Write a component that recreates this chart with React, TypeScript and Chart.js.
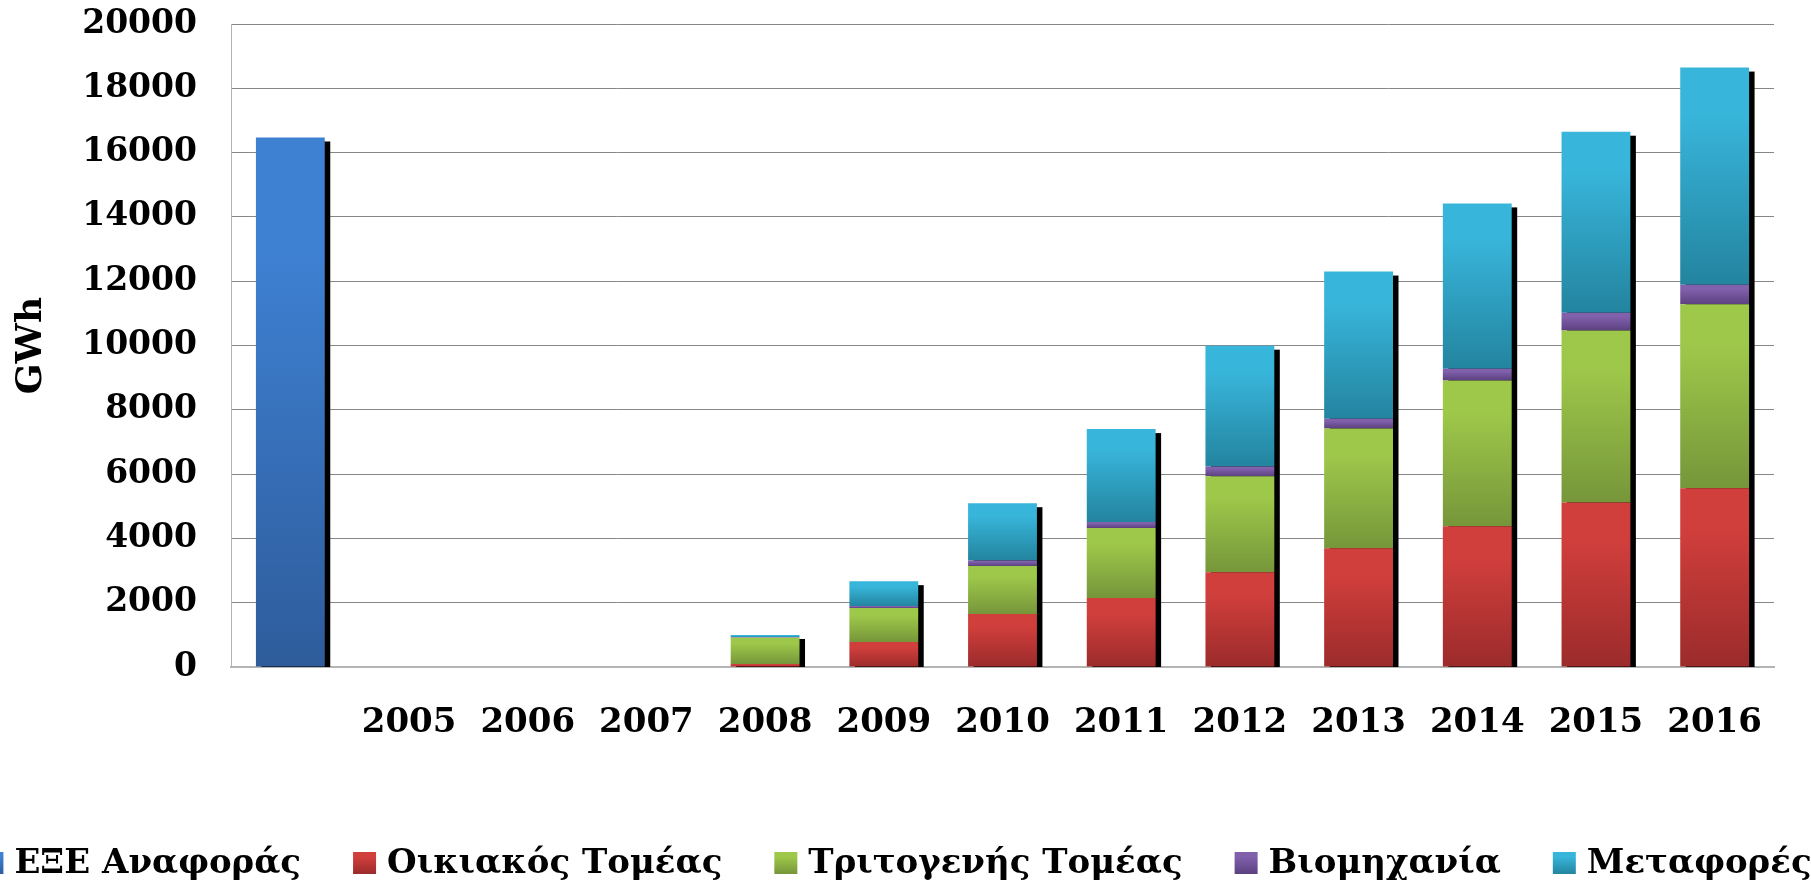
import React, { useEffect, useRef } from 'react';
import { Chart, registerables } from 'chart.js';

Chart.register(...registerables);

const categories = ['', '2005', '2006', '2007', '2008', '2009', '2010', '2011', '2012', '2013', '2014', '2015', '2016'];
const reference = [16470, null, null, null, null, null, null, null, null, null, null, null, null];
const residential = [null, 0, 0, 0, 90, 780, 1650, 2150, 2950, 3690, 4375, 5120, 5560];
const tertiary = [null, 0, 0, 0, 820, 1055, 1490, 2175, 2985, 3730, 4540, 5345, 5720];
const industry = [null, 0, 0, 0, 15, 60, 175, 185, 300, 300, 365, 550, 610];
const transport = [null, 0, 0, 0, 70, 775, 1780, 2890, 3760, 4580, 5140, 5635, 6755];
const seriesNames = ['ΕΞΕ Αναφοράς', 'Οικιακός Τομέας', 'Τριτογενής Τομέας', 'Βιομηχανία', 'Μεταφορές'];
const yMax = 20000;
const yStep = 2000;
const yTitle = 'GWh';

const allSeries = [reference, residential, tertiary, industry, transport];
const colorsTop = ['#3E80D2', '#D13F3C', '#9EC84A', '#8160AC', '#38B5DA'];
const colorsBottom = ['#2E5C9B', '#9B2B2B', '#76963A', '#5B4180', '#23849F'];

const FONT = '"DejaVu Serif", serif';

function makeGradient(ctx: CanvasRenderingContext2D, top: number, bottom: number, d: number) {
  const g = ctx.createLinearGradient(0, top, 0, bottom);
  g.addColorStop(0, colorsTop[d]);
  g.addColorStop(0.22, colorsTop[d]);
  g.addColorStop(1, colorsBottom[d]);
  return g;
}

function segBackground(d: number) {
  return (c: any) => {
    const chart = c.chart;
    if (c.type !== 'data' || !chart.chartArea) return colorsTop[d];
    const i = c.dataIndex;
    let start = 0;
    for (let k = 0; k < d; k++) start += allSeries[k][i] ?? 0;
    const v = allSeries[d][i] ?? 0;
    const y = chart.scales.y;
    const yTop = y.getPixelForValue(start + v);
    const yBot = y.getPixelForValue(start);
    if (!(yBot - yTop > 0.5)) return colorsTop[d];
    return makeGradient(chart.ctx, yTop, yBot, d);
  };
}

const shadowPlugin = {
  id: 'barShadow',
  beforeDatasetsDraw(chart: any) {
    const { ctx, chartArea, scales } = chart;
    const y = scales.y;
    ctx.save();
    ctx.beginPath();
    ctx.rect(chartArea.left, 0, chartArea.right - chartArea.left + 20, chartArea.bottom);
    ctx.clip();
    ctx.fillStyle = '#000000';
    categories.forEach((_, i) => {
      let total = 0;
      let el: any = null;
      allSeries.forEach((s, d) => {
        const v = s[i];
        if (v) {
          total += v;
          el = chart.getDatasetMeta(d).data[i];
        }
      });
      if (!el || total <= 0) return;
      const w = el.width;
      const top = y.getPixelForValue(total) + 4;
      const bottom = y.getPixelForValue(0);
      ctx.fillRect(el.x - w / 2 + 5.5, top, w, bottom - top);
    });
    ctx.restore();
  },
};

const legendPlugin = {
  id: 'customLegend',
  afterDraw(chart: any) {
    const { ctx, height } = chart;
    ctx.save();
    ctx.font = `bold 34px ${FONT}`;
    ctx.textBaseline = 'alphabetic';
    ctx.textAlign = 'left';
    const box = 23;
    const boxH = 22;
    const gapText = 11;
    const gapItem = 52;
    const widths = seriesNames.map((n) => ctx.measureText(n).width);
    let total = 0;
    widths.forEach((w, k) => {
      total += box + gapText + w + (k < widths.length - 1 ? gapItem : 0);
    });
    let x = 896 - total / 2;
    const baseline = height - 12;
    const boxTop = height - 33;
    seriesNames.forEach((n, d) => {
      ctx.fillStyle = makeGradient(ctx, boxTop, boxTop + boxH, d);
      ctx.fillRect(x, boxTop, box, boxH);
      x += box + gapText;
      ctx.fillStyle = '#000000';
      ctx.fillText(n, x, baseline);
      x += widths[d] + gapItem;
    });
    ctx.restore();
  },
};

export default function App() {
  const ref = useRef<HTMLCanvasElement | null>(null);
  useEffect(() => {
    document.body.style.margin = '0';
    const canvas = ref.current;
    if (!canvas) return;
    const chart = new Chart(canvas, {
      type: 'bar',
      data: {
        labels: categories,
        datasets: seriesNames.map((name, d) => ({
          label: name,
          data: allSeries[d],
          backgroundColor: segBackground(d),
          borderWidth: 0,
          stack: 'all',
          barPercentage: 0.58,
          categoryPercentage: 1,
        })),
      },
      options: {
        responsive: false,
        animation: false,
        layout: { padding: { top: 24, right: 37, left: 0, bottom: 0 } },
        plugins: {
          legend: { display: false },
          tooltip: { enabled: false },
        },
        scales: {
          x: {
            stacked: true,
            grid: { display: false, drawTicks: false },
            border: { display: true, color: '#B4B4B4', width: 2 },
            ticks: {
              color: '#000000',
              font: { family: FONT, size: 34, weight: 'bold' },
              padding: 36,
              maxRotation: 0,
              autoSkip: false,
            },
            afterFit: (s: any) => {
              s.height = 218;
            },
          },
          y: {
            stacked: true,
            min: 0,
            max: yMax,
            grid: { color: '#878787', lineWidth: 1, drawTicks: false },
            border: { display: true, color: '#B4B4B4', width: 1 },
            ticks: {
              stepSize: yStep,
              color: '#000000',
              font: { family: FONT, size: 33, weight: 'bold' },
              padding: 34,
              callback: (v: any) => String(v),
            },
            title: {
              display: true,
              text: yTitle,
              color: '#000000',
              font: { family: FONT, size: 36, weight: 'bold' },
              padding: { top: 10, bottom: 0 },
            },
            afterFit: (s: any) => {
              s.width = 231;
              s.paddingTop = 0;
              s.paddingBottom = 0;
            },
          },
        },
      },
      plugins: [shadowPlugin, legendPlugin],
    });
    return () => chart.destroy();
  }, []);
  return (
    <div style={{ width: 1811, height: 885 }}>
      <canvas ref={ref} width={1811} height={885} style={{ display: 'block' }} />
    </div>
  );
}
